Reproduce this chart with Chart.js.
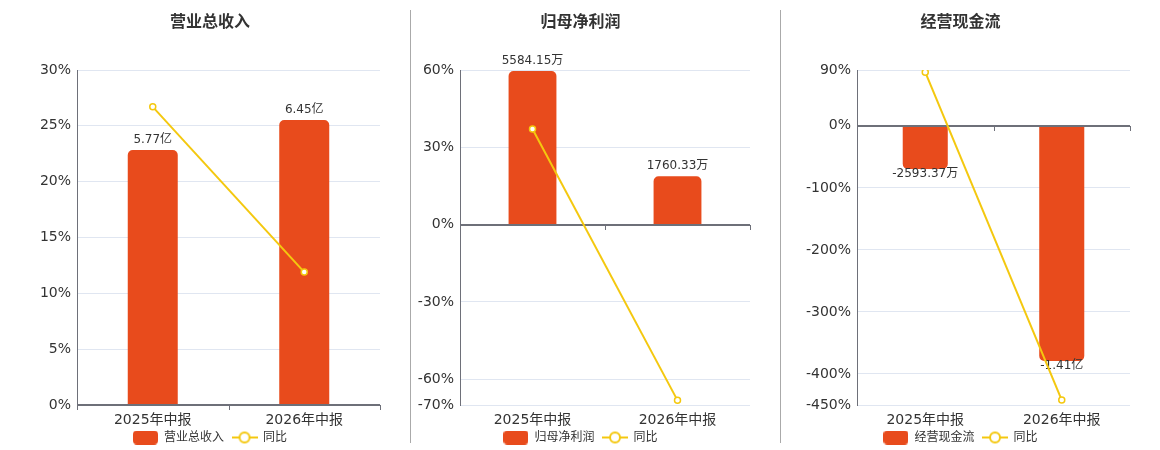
<!DOCTYPE html>
<html>
<head>
<meta charset="utf-8">
<script src="https://cdn.jsdelivr.net/npm/chart.js@4.4.0/dist/chart.umd.min.js"></script>
<style>
  body { margin: 0; width: 1160px; height: 450px; background: #fff; position: relative; overflow: hidden; }
  canvas { position: absolute; top: 0; }
  .sep { position: absolute; top: 10px; height: 433px; width: 1px; background: #aaa; z-index: 2; }
</style>
</head>
<body>
<canvas id="revenueChart" width="420" height="450" style="left:0px"></canvas>
<canvas id="profitChart" width="359" height="450" style="left:401px"></canvas>
<canvas id="cashChart" width="359" height="450" style="left:781px"></canvas>
<div class="sep" style="left:410px"></div>
<div class="sep" style="left:780px"></div>
<script>
// === DATA ===
const periods = ["2025年中报", "2026年中报"];

const revenue = [5.77, 6.45];            // 亿
const revenueText = ["5.77亿", "6.45亿"];
const revenueYoy = [26.7, 11.9];         // %
const revenueTicks = [0, 5, 10, 15, 20, 25, 30];

const profit = [5584.15, 1760.33];       // 万
const profitText = ["5584.15万", "1760.33万"];
const profitYoy = [37.1, -68.2];
const profitTicks = [-70, -60, -30, 0, 30, 60];

const cashflow = [-2593.37, -14100];     // 万
const cashflowText = ["-2593.37万", "-1.41亿"];
const cashflowYoy = [86.5, -442];
const cashflowTicks = [-450, -400, -300, -200, -100, 0, 90];

// === STYLE ===
const FONT = "'DejaVu Sans', 'Noto Sans CJK SC', sans-serif";
const BAR_COLOR = "#e84b1c";
const LINE_COLOR = "#f4c80f";
const AXIS_COLOR = "#6e7079";
const GRID_COLOR = "#e0e6f1";

function barIcon() {
  const c = document.createElement("canvas");
  c.width = 25; c.height = 14;
  const g = c.getContext("2d");
  g.fillStyle = BAR_COLOR;
  g.beginPath();
  g.roundRect(0, 0, 25, 14, 4);
  g.fill();
  return c;
}

function lineIcon() {
  const c = document.createElement("canvas");
  c.width = 26; c.height = 14;
  const g = c.getContext("2d");
  g.strokeStyle = LINE_COLOR;
  g.lineWidth = 2;
  g.beginPath(); g.moveTo(0, 7); g.lineTo(26, 7); g.stroke();
  g.fillStyle = "#fff";
  g.beginPath(); g.arc(13, 7, 5, 0, Math.PI * 2); g.fill(); g.stroke();
  return c;
}

const icons = [barIcon(), lineIcon()];

// zero axis line + value labels, drawn right after the bars (under the line)
const barExtras = {
  id: "barExtras",
  afterDatasetDraw(chart, args, opts) {
    if (args.meta.type !== "bar") return;
    const { ctx, chartArea, scales: { x, y } } = chart;
    const y0 = Math.round(y.getPixelForValue(0));
    ctx.save();
    ctx.strokeStyle = AXIS_COLOR;
    ctx.lineWidth = 2;
    ctx.beginPath();
    ctx.moveTo(chartArea.left, y0);
    ctx.lineTo(chartArea.right, y0);
    ctx.stroke();
    ctx.lineWidth = 1;
    const n = chart.data.labels.length;
    for (let k = 0; k <= n; k++) {
      const px = Math.round(x.left + k * x.width / n) + 0.5;
      ctx.beginPath();
      ctx.moveTo(px, y0);
      ctx.lineTo(px, y0 + 5);
      ctx.stroke();
    }
    ctx.font = "12px " + FONT;
    ctx.fillStyle = "#333";
    ctx.textAlign = "center";
    ctx.textBaseline = "middle";
    const values = chart.data.datasets[args.index].data;
    args.meta.data.forEach((bar, i) => {
      const off = values[i] >= 0 ? -10.5 : 5;
      ctx.fillText(opts.texts[i], bar.x, bar.y + off);
    });
    ctx.restore();
  }
};

function makeChart(id, title, barName, bars, texts, yoy, ticks, barTop, leftW, rightW) {
  const lo = ticks[0], hi = ticks[ticks.length - 1];
  return new Chart(document.getElementById(id), {
    type: "bar",
    data: {
      labels: periods,
      datasets: [
        {
          label: barName,
          data: bars,
          yAxisID: "y1",
          order: 1,
          backgroundColor: BAR_COLOR,
          borderRadius: 5,
          borderSkipped: "start",
          barPercentage: 0.33,
          categoryPercentage: 1
        },
        {
          type: "line",
          label: "同比",
          data: yoy,
          yAxisID: "y",
          order: 0,
          borderColor: LINE_COLOR,
          borderWidth: 2,
          pointRadius: 3,
          pointBorderWidth: 1.5,
          pointBackgroundColor: "#fff",
          pointBorderColor: LINE_COLOR,
          tension: 0
        }
      ]
    },
    plugins: [barExtras],
    options: {
      responsive: false,
      animation: false,
      layout: { padding: { bottom: -3.5 } },
      plugins: {
        title: {
          display: true,
          text: title,
          color: "#333",
          font: { family: FONT, size: 16, weight: "bold" },
          padding: { top: 13, bottom: 37.8 }
        },
        legend: {
          position: "bottom",
          labels: {
            usePointStyle: true,
            pointStyleWidth: 25,
            padding: 8,
            color: "#333",
            font: { family: FONT, size: 12 },
            sort: (a, b) => a.datasetIndex - b.datasetIndex,
            generateLabels(chart) {
              const items = Chart.defaults.plugins.legend.labels.generateLabels(chart);
              items.forEach(it => { it.pointStyle = icons[it.datasetIndex]; });
              return items;
            }
          }
        },
        tooltip: { enabled: false },
        barExtras: { texts: texts }
      },
      scales: {
        x: {
          grid: { display: false, drawTicks: false },
          border: { display: false },
          // mirrored + negative padding: labels sit below the axis without being clipped by its box
          ticks: { color: "#333", font: { family: FONT, size: 14 }, mirror: true, padding: -23.6 },
          afterFit(s) { s.height = 18.5; }
        },
        y: {
          position: "left",
          min: lo,
          max: hi,
          afterBuildTicks(s) { s.ticks = ticks.map(v => ({ value: v })); },
          grid: { color: GRID_COLOR, drawTicks: false },
          border: { display: true, color: AXIS_COLOR, width: 1 },
          ticks: {
            color: "#333",
            font: { family: FONT, size: 14 },
            padding: 6,
            callback: v => v + "%"
          },
          afterFit(s) { s.width = leftW; }
        },
        y1: {
          position: "right",
          min: barTop * lo / hi,
          max: barTop,
          grid: { display: false, drawTicks: false },
          border: { display: false },
          ticks: { display: false },
          afterFit(s) { s.width = rightW; }
        }
      }
    }
  });
}

// === CHART 1: 营业总收入 ===
makeChart("revenueChart", "营业总收入", "营业总收入", revenue, revenueText, revenueYoy,
  revenueTicks, 7.58, 77, 40);

// === CHART 2: 归母净利润 ===
makeChart("profitChart", "归母净利润", "归母净利润", profit, profitText, profitYoy,
  profitTicks, 5620, 59, 10);

// === CHART 3: 经营现金流 ===
makeChart("cashChart", "经营现金流", "经营现金流", cashflow, cashflowText, cashflowYoy,
  cashflowTicks, 3348, 76, 10);
</script>
</body>
</html>
